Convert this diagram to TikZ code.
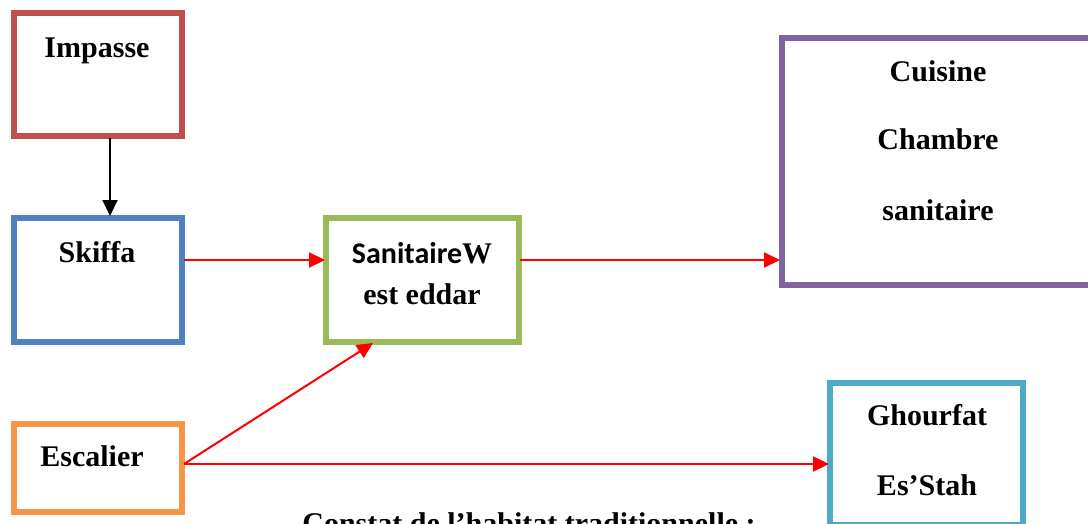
\documentclass[tikz,border=0pt]{standalone}
\usepackage{fontspec}
\setmainfont{Liberation Serif}
\newfontfamily\calfont{Carlito}
\usetikzlibrary{arrows.meta,calc}
\definecolor{cred}{HTML}{C0504D}
\definecolor{cblue}{HTML}{4F81BD}
\definecolor{cgreen}{HTML}{9BBB59}
\definecolor{cpurple}{HTML}{8064A2}
\definecolor{corange}{HTML}{F79646}
\definecolor{caqua}{HTML}{4BACC6}
\definecolor{rline}{HTML}{FF0000}
\tikzset{
  boxnode/.style={draw,rectangle,line width=5.5pt,inner sep=0pt,fill=white},
  lbl/.style={anchor=base,inner sep=0pt,font=\fontsize{30}{30}\selectfont\bfseries},
  redarrow/.style={draw=rline,line width=2pt,-{Triangle[length=16pt,width=15pt]}},
  blackarrow/.style={draw=black,line width=2pt,-{Triangle[length=16pt,width=15pt]}},
}
\begin{document}
\begin{tikzpicture}[x=1pt,y=-1pt]
\useasboundingbox (0,0) rectangle (1088,523);
\fill[white] (0,0) rectangle (1088,523);
% boxes
\node[boxnode,draw=cred,minimum width=168pt,minimum height=123pt] (imp) at (98,74.5) {};
\node[boxnode,draw=cblue,minimum width=168pt,minimum height=124pt] (ski) at (98,280) {};
\node[boxnode,draw=cgreen,minimum width=193pt,minimum height=124pt] (san) at (422.5,280) {};
\node[boxnode,draw=cpurple,minimum width=312pt,minimum height=247pt] (cui) at (938,161.5) {};
\node[boxnode,draw=corange,minimum width=168pt,minimum height=88pt] (esc) at (98,468) {};
\node[boxnode,draw=caqua,minimum width=193pt,minimum height=142pt] (gho) at (926.5,454) {};
% labels
\node[lbl] (timp) at (97,57) {Impasse};
\node[lbl] (tski) at (97,262) {Skiffa};
\node[lbl] (tsan1) at (422,263) {{\calfont Sanitaire}W};
\node[lbl] (tsan2) at (422,304) {est eddar};
\node[lbl] (tcui1) at (938,81) {Cuisine};
\node[lbl] (tcui2) at (938,149) {Chambre};
\node[lbl] (tcui3) at (938,220) {sanitaire};
\node[lbl] (tesc) at (92,466) {Escalier};
\node[lbl] (tgho1) at (927,425) {Ghourfat};
\node[lbl] (tgho2) at (927,495) {Es’Stah};
\node[lbl] (tcap) at (529,533) {Constat de l’habitat traditionnelle :};
% connector end points
\coordinate (impout) at (110,138);
\coordinate (skiin) at (110,216);
\coordinate (skiout) at (184,260);
\coordinate (sanin) at (325,260);
\coordinate (sanout) at (520,260);
\coordinate (cuiin) at (780,260);
\coordinate (escout) at (184,464);
\coordinate (sanbot) at (373,343);
\coordinate (ghoin) at (829,464);
% connectors
\draw[blackarrow] (impout) -- (skiin);
\draw[redarrow] (skiout) -- (sanin);
\draw[redarrow] (sanout) -- (cuiin);
\draw[redarrow] (escout) -- (sanbot);
\draw[redarrow] (escout) -- (ghoin);
\end{tikzpicture}
\end{document}
